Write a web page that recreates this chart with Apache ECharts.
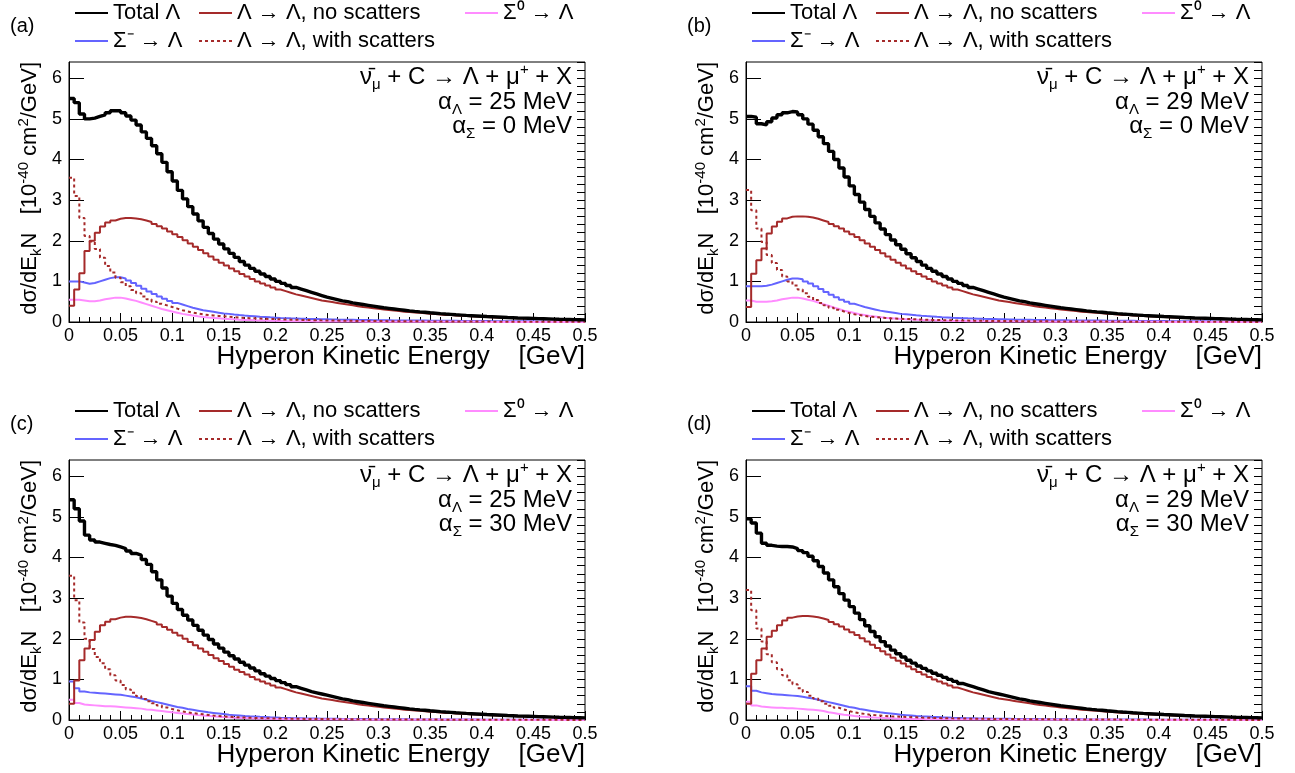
<!DOCTYPE html>
<html><head><meta charset="utf-8">
<script src="https://cdn.jsdelivr.net/npm/echarts@6/dist/echarts.min.js"></script>
<style>html,body{margin:0;padding:0;background:#fff}#c{width:1295px;height:773px}</style>
</head><body><div id="c"></div><script>
// ---------------- DATA (100 bins of 0.005 GeV, 0 - 0.5 GeV) ----------------
const binWidth = 0.005;
const xTickLabels = ['0','0.05','0.1','0.15','0.2','0.25','0.3','0.35','0.4','0.45','0.5'];
const yTickLabels = ['0','1','2','3','4','5','6'];
const seriesNames = ['Total Λ','Λ → Λ, no scatters','Σ⁰ → Λ','Σ⁻ → Λ','Λ → Λ, with scatters'];
const panelLabels = ['(a)','(b)','(c)','(d)'];
const alphaLambda = ['25','29','25','29'];
const alphaSigma = ['0','0','30','30'];

// Panel (a)
const totalA = [
5.5,5.4,5.12,5.0,5.02,5.06,5.1,5.15,5.2,5.2,
5.15,5.07,4.97,4.85,4.68,4.52,4.34,4.14,3.93,3.7,
3.47,3.24,3.03,2.84,2.66,2.49,2.33,2.18,2.04,1.92,
1.8,1.69,1.59,1.49,1.4,1.32,1.25,1.18,1.12,1.06,
1.0,0.95,0.9,0.85,0.81,0.77,0.73,0.69,0.65,0.61,
0.58,0.55,0.52,0.5,0.47,0.45,0.43,0.41,0.39,0.37,
0.35,0.335,0.32,0.305,0.29,0.275,0.262,0.25,0.24,0.228,
0.217,0.206,0.196,0.187,0.178,0.17,0.162,0.155,0.148,0.141,
0.134,0.128,0.122,0.116,0.11,0.105,0.1,0.096,0.092,0.088,
0.084,0.08,0.076,0.072,0.068,0.065,0.062,0.059,0.056,0.053];
const noScatA = [
0.4,0.8,1.2,1.75,2.0,2.2,2.35,2.45,2.5,2.54,
2.56,2.56,2.55,2.53,2.5,2.46,2.41,2.36,2.3,2.23,
2.16,2.09,2.01,1.93,1.85,1.77,1.69,1.61,1.53,1.46,
1.39,1.32,1.25,1.18,1.12,1.06,1.0,0.95,0.9,0.85,
0.8,0.76,0.72,0.68,0.65,0.62,0.59,0.56,0.53,0.51,
0.49,0.47,0.45,0.43,0.41,0.39,0.37,0.355,0.34,0.325,
0.31,0.295,0.28,0.27,0.255,0.245,0.235,0.225,0.215,0.205,
0.195,0.185,0.175,0.17,0.16,0.155,0.147,0.14,0.134,0.128,
0.122,0.116,0.11,0.105,0.1,0.096,0.092,0.088,0.084,0.08,
0.076,0.072,0.068,0.065,0.062,0.059,0.056,0.053,0.05,0.047];
const withScatA = [
3.55,3.1,2.56,2.12,1.98,1.8,1.58,1.38,1.22,1.09,
0.98,0.88,0.79,0.71,0.63,0.56,0.5,0.45,0.41,0.37,
0.33,0.29,0.26,0.23,0.21,0.19,0.17,0.16,0.15,0.14,
0.13,0.12,0.11,0.1,0.095,0.09,0.085,0.08,0.075,0.07,
0.066,0.062,0.058,0.055,0.052,0.049,0.046,0.043,0.04,0.038,
0.036,0.034,0.032,0.03,0.028,0.027,0.026,0.025,0.024,0.023,
0.022,0.021,0.02,0.019,0.018,0.017,0.016,0.016,0.015,0.015,
0.014,0.014,0.013,0.013,0.012,0.012,0.011,0.011,0.01,0.01,
0.01,0.009,0.009,0.009,0.008,0.008,0.008,0.007,0.007,0.007,
0.006,0.006,0.006,0.006,0.005,0.005,0.005,0.005,0.005,0.004];
const sigMinusA = [
1.0,1.0,0.97,0.94,0.96,1.0,1.04,1.08,1.1,1.1,
1.07,1.02,0.96,0.89,0.82,0.75,0.69,0.63,0.57,0.52,
0.47,0.43,0.39,0.35,0.32,0.29,0.27,0.25,0.23,0.21,
0.2,0.185,0.172,0.16,0.15,0.14,0.13,0.122,0.114,0.107,
0.1,0.095,0.09,0.086,0.082,0.078,0.075,0.072,0.069,0.066,
0.063,0.06,0.058,0.056,0.054,0.052,0.05,0.048,0.046,0.044,
0.042,0.041,0.04,0.039,0.038,0.037,0.036,0.035,0.034,0.033,
0.032,0.031,0.03,0.029,0.028,0.027,0.026,0.025,0.024,0.023,
0.022,0.021,0.02,0.02,0.019,0.018,0.018,0.017,0.016,0.016,
0.015,0.015,0.014,0.014,0.013,0.013,0.012,0.012,0.011,0.011];
const sigZeroA = [
0.55,0.55,0.53,0.51,0.51,0.53,0.56,0.58,0.6,0.6,
0.58,0.55,0.52,0.48,0.44,0.4,0.36,0.32,0.29,0.26,
0.23,0.2,0.18,0.16,0.14,0.125,0.11,0.1,0.09,0.08,
0.072,0.065,0.058,0.052,0.047,0.042,0.038,0.034,0.031,0.028,
0.025,0.023,0.021,0.019,0.018,0.017,0.016,0.015,0.014,0.013,
0.012,0.012,0.011,0.011,0.01,0.01,0.009,0.009,0.009,0.008,
0.008,0.008,0.007,0.007,0.007,0.006,0.006,0.006,0.006,0.005,
0.005,0.005,0.005,0.005,0.004,0.004,0.004,0.004,0.004,0.004,
0.003,0.003,0.003,0.003,0.003,0.003,0.003,0.003,0.002,0.002,
0.002,0.002,0.002,0.002,0.002,0.002,0.002,0.002,0.002,0.002];

// Panel (b)
const totalB = [
5.06,5.04,4.88,4.85,4.93,5.02,5.1,5.15,5.18,5.17,
5.1,5.0,4.87,4.72,4.56,4.39,4.2,4.0,3.79,3.57,
3.35,3.14,2.95,2.77,2.6,2.44,2.29,2.15,2.02,1.9,
1.79,1.68,1.58,1.49,1.4,1.32,1.25,1.18,1.12,1.06,
1.0,0.95,0.9,0.85,0.81,0.77,0.73,0.69,0.65,0.61,
0.58,0.55,0.52,0.5,0.47,0.45,0.43,0.41,0.39,0.37,
0.35,0.335,0.32,0.305,0.29,0.275,0.262,0.25,0.24,0.228,
0.217,0.206,0.196,0.187,0.178,0.17,0.162,0.155,0.148,0.141,
0.134,0.128,0.122,0.116,0.11,0.105,0.1,0.096,0.092,0.088,
0.084,0.08,0.076,0.072,0.068,0.065,0.062,0.059,0.056,0.053];
const noScatB = [
0.37,1.19,1.52,1.81,2.18,2.35,2.47,2.55,2.59,2.6,
2.6,2.59,2.57,2.54,2.5,2.46,2.41,2.36,2.3,2.23,
2.16,2.09,2.01,1.93,1.85,1.77,1.69,1.61,1.53,1.46,
1.39,1.32,1.25,1.18,1.12,1.06,1.0,0.95,0.9,0.85,
0.8,0.76,0.72,0.68,0.65,0.62,0.59,0.56,0.53,0.51,
0.49,0.47,0.45,0.43,0.41,0.39,0.37,0.355,0.34,0.325,
0.31,0.295,0.28,0.27,0.255,0.245,0.235,0.225,0.215,0.205,
0.195,0.185,0.175,0.17,0.16,0.155,0.147,0.14,0.134,0.128,
0.122,0.116,0.11,0.105,0.1,0.096,0.092,0.088,0.084,0.08,
0.076,0.072,0.068,0.065,0.062,0.059,0.056,0.053,0.05,0.047];
const withScatB = [
3.25,2.75,2.3,1.97,1.65,1.45,1.28,1.12,1.0,0.9,
0.8,0.71,0.62,0.54,0.47,0.41,0.35,0.3,0.26,0.22,
0.19,0.17,0.15,0.13,0.12,0.11,0.1,0.09,0.085,0.08,
0.075,0.07,0.065,0.06,0.056,0.052,0.049,0.046,0.043,0.04,
0.038,0.036,0.034,0.032,0.03,0.028,0.027,0.026,0.025,0.024,
0.023,0.022,0.021,0.02,0.019,0.018,0.017,0.016,0.016,0.015,
0.015,0.014,0.014,0.013,0.013,0.012,0.012,0.011,0.011,0.01,
0.01,0.01,0.009,0.009,0.009,0.008,0.008,0.008,0.007,0.007,
0.007,0.006,0.006,0.006,0.006,0.005,0.005,0.005,0.005,0.005,
0.004,0.004,0.004,0.004,0.004,0.004,0.003,0.003,0.003,0.003];
const sigMinusB = [
0.88,0.88,0.88,0.89,0.92,0.96,1.0,1.04,1.07,1.07,
1.05,1.0,0.95,0.88,0.81,0.74,0.67,0.61,0.55,0.5,
0.45,0.41,0.37,0.34,0.31,0.28,0.26,0.24,0.22,0.2,
0.19,0.178,0.166,0.155,0.145,0.136,0.127,0.119,0.112,0.105,
0.1,0.095,0.09,0.086,0.082,0.078,0.075,0.072,0.069,0.066,
0.063,0.06,0.058,0.056,0.054,0.052,0.05,0.048,0.046,0.044,
0.042,0.041,0.04,0.039,0.038,0.037,0.036,0.035,0.034,0.033,
0.032,0.031,0.03,0.029,0.028,0.027,0.026,0.025,0.024,0.023,
0.022,0.021,0.02,0.02,0.019,0.018,0.018,0.017,0.016,0.016,
0.015,0.015,0.014,0.014,0.013,0.013,0.012,0.012,0.011,0.011];
const sigZeroB = [
0.53,0.5,0.5,0.5,0.51,0.53,0.56,0.58,0.6,0.6,
0.58,0.55,0.52,0.48,0.44,0.4,0.36,0.32,0.28,0.25,
0.22,0.19,0.17,0.15,0.135,0.12,0.105,0.095,0.085,0.076,
0.069,0.062,0.056,0.05,0.045,0.041,0.037,0.033,0.03,0.027,
0.025,0.023,0.021,0.019,0.018,0.017,0.016,0.015,0.014,0.013,
0.012,0.012,0.011,0.011,0.01,0.01,0.009,0.009,0.009,0.008,
0.008,0.008,0.007,0.007,0.007,0.006,0.006,0.006,0.006,0.005,
0.005,0.005,0.005,0.005,0.004,0.004,0.004,0.004,0.004,0.004,
0.003,0.003,0.003,0.003,0.003,0.003,0.003,0.003,0.002,0.002,
0.002,0.002,0.002,0.002,0.002,0.002,0.002,0.002,0.002,0.002];

// Panel (c)
const totalC = [
5.42,5.2,4.9,4.55,4.43,4.38,4.35,4.32,4.3,4.26,
4.22,4.16,4.1,4.06,3.95,3.83,3.65,3.45,3.25,3.05,
2.87,2.72,2.58,2.46,2.33,2.21,2.09,1.98,1.87,1.77,
1.67,1.58,1.5,1.42,1.35,1.28,1.21,1.14,1.08,1.02,
0.97,0.92,0.87,0.82,0.78,0.74,0.7,0.67,0.64,0.61,
0.58,0.55,0.52,0.5,0.47,0.45,0.43,0.41,0.39,0.37,
0.35,0.335,0.32,0.305,0.29,0.275,0.262,0.25,0.24,0.228,
0.217,0.206,0.196,0.187,0.178,0.17,0.162,0.155,0.148,0.141,
0.134,0.128,0.122,0.116,0.11,0.105,0.1,0.096,0.092,0.088,
0.084,0.08,0.076,0.072,0.068,0.065,0.062,0.059,0.056,0.053];
const noScatC = [
0.4,0.97,1.47,1.76,1.97,2.17,2.33,2.42,2.48,2.52,
2.54,2.54,2.53,2.51,2.48,2.44,2.4,2.35,2.29,2.22,
2.15,2.08,2.0,1.92,1.84,1.76,1.68,1.6,1.52,1.45,
1.38,1.31,1.24,1.18,1.12,1.06,1.0,0.95,0.9,0.85,
0.8,0.76,0.72,0.68,0.65,0.62,0.59,0.56,0.53,0.51,
0.49,0.47,0.45,0.43,0.41,0.39,0.37,0.355,0.34,0.325,
0.31,0.295,0.28,0.27,0.255,0.245,0.235,0.225,0.215,0.205,
0.195,0.185,0.175,0.17,0.16,0.155,0.147,0.14,0.134,0.128,
0.122,0.116,0.11,0.105,0.1,0.096,0.092,0.088,0.084,0.08,
0.076,0.072,0.068,0.065,0.062,0.059,0.056,0.053,0.05,0.047];
const withScatC = [
3.55,2.95,2.4,2.0,1.75,1.55,1.4,1.25,1.1,0.97,
0.86,0.75,0.67,0.59,0.52,0.46,0.41,0.36,0.31,0.27,
0.24,0.21,0.19,0.17,0.155,0.14,0.125,0.11,0.1,0.09,
0.08,0.073,0.067,0.061,0.056,0.052,0.048,0.044,0.041,0.038,
0.036,0.034,0.032,0.03,0.028,0.027,0.026,0.025,0.024,0.023,
0.022,0.021,0.02,0.019,0.018,0.017,0.016,0.016,0.015,0.015,
0.014,0.014,0.013,0.013,0.012,0.012,0.011,0.011,0.01,0.01,
0.01,0.009,0.009,0.009,0.008,0.008,0.008,0.007,0.007,0.007,
0.006,0.006,0.006,0.006,0.005,0.005,0.005,0.005,0.005,0.004,
0.004,0.004,0.004,0.004,0.004,0.003,0.003,0.003,0.003,0.003];
const sigMinusC = [
0.95,0.78,0.7,0.68,0.67,0.66,0.65,0.64,0.63,0.62,
0.6,0.58,0.56,0.53,0.5,0.47,0.44,0.41,0.38,0.35,
0.32,0.3,0.27,0.25,0.23,0.21,0.19,0.175,0.16,0.145,
0.13,0.12,0.11,0.1,0.092,0.085,0.078,0.072,0.066,0.061,
0.056,0.052,0.048,0.045,0.042,0.039,0.037,0.035,0.033,0.031,
0.029,0.028,0.027,0.026,0.025,0.024,0.023,0.022,0.021,0.02,
0.019,0.018,0.018,0.017,0.016,0.016,0.015,0.015,0.014,0.014,
0.013,0.013,0.012,0.012,0.011,0.011,0.01,0.01,0.01,0.009,
0.009,0.009,0.008,0.008,0.008,0.007,0.007,0.007,0.007,0.006,
0.006,0.006,0.006,0.005,0.005,0.005,0.005,0.005,0.004,0.004];
const sigZeroC = [
0.5,0.42,0.38,0.37,0.36,0.35,0.34,0.34,0.33,0.32,
0.31,0.3,0.29,0.28,0.26,0.25,0.235,0.22,0.205,0.19,
0.175,0.16,0.148,0.135,0.12,0.11,0.1,0.09,0.08,0.072,
0.065,0.058,0.052,0.047,0.042,0.038,0.034,0.031,0.028,0.025,
0.023,0.021,0.019,0.018,0.017,0.016,0.015,0.014,0.013,0.012,
0.012,0.011,0.011,0.01,0.01,0.009,0.009,0.009,0.008,0.008,
0.008,0.007,0.007,0.007,0.006,0.006,0.006,0.006,0.005,0.005,
0.005,0.005,0.005,0.004,0.004,0.004,0.004,0.004,0.004,0.003,
0.003,0.003,0.003,0.003,0.003,0.003,0.003,0.002,0.002,0.002,
0.002,0.002,0.002,0.002,0.002,0.002,0.002,0.002,0.002,0.002];

// Panel (d)
const totalD = [
4.95,4.85,4.6,4.35,4.3,4.28,4.27,4.27,4.26,4.22,
4.17,4.12,4.03,3.92,3.78,3.62,3.45,3.28,3.11,2.95,
2.79,2.63,2.47,2.32,2.18,2.05,1.93,1.82,1.72,1.63,
1.55,1.47,1.4,1.33,1.27,1.21,1.15,1.1,1.05,1.0,
0.95,0.9,0.86,0.82,0.78,0.74,0.7,0.67,0.64,0.61,
0.58,0.55,0.52,0.5,0.47,0.45,0.43,0.41,0.39,0.37,
0.35,0.335,0.32,0.305,0.29,0.275,0.262,0.25,0.24,0.228,
0.217,0.206,0.196,0.187,0.178,0.17,0.162,0.155,0.148,0.141,
0.134,0.128,0.122,0.116,0.11,0.105,0.1,0.096,0.092,0.088,
0.084,0.08,0.076,0.072,0.068,0.065,0.062,0.059,0.056,0.053];
const noScatD = [
0.4,1.14,1.47,1.76,2.05,2.2,2.33,2.45,2.52,2.55,
2.56,2.56,2.55,2.53,2.5,2.46,2.41,2.36,2.3,2.23,
2.16,2.09,2.01,1.93,1.85,1.77,1.69,1.61,1.53,1.46,
1.39,1.32,1.25,1.18,1.12,1.06,1.0,0.95,0.9,0.85,
0.8,0.76,0.72,0.68,0.65,0.62,0.59,0.56,0.53,0.51,
0.49,0.47,0.45,0.43,0.41,0.39,0.37,0.355,0.34,0.325,
0.31,0.295,0.28,0.27,0.255,0.245,0.235,0.225,0.215,0.205,
0.195,0.185,0.175,0.17,0.16,0.155,0.147,0.14,0.134,0.128,
0.122,0.116,0.11,0.105,0.1,0.096,0.092,0.088,0.084,0.08,
0.076,0.072,0.068,0.065,0.062,0.059,0.056,0.053,0.05,0.047];
const withScatD = [
3.2,2.7,2.25,1.93,1.62,1.42,1.25,1.1,0.98,0.88,
0.78,0.69,0.6,0.53,0.46,0.4,0.35,0.3,0.26,0.22,
0.19,0.17,0.15,0.13,0.12,0.11,0.1,0.09,0.085,0.08,
0.075,0.07,0.065,0.06,0.056,0.052,0.049,0.046,0.043,0.04,
0.038,0.036,0.034,0.032,0.03,0.028,0.027,0.026,0.025,0.024,
0.023,0.022,0.021,0.02,0.019,0.018,0.017,0.016,0.016,0.015,
0.015,0.014,0.014,0.013,0.013,0.012,0.012,0.011,0.011,0.01,
0.01,0.01,0.009,0.009,0.009,0.008,0.008,0.008,0.007,0.007,
0.007,0.006,0.006,0.006,0.006,0.005,0.005,0.005,0.005,0.005,
0.004,0.004,0.004,0.004,0.004,0.004,0.003,0.003,0.003,0.003];
const sigMinusD = [
0.83,0.72,0.68,0.66,0.64,0.63,0.62,0.61,0.6,0.59,
0.57,0.55,0.53,0.5,0.47,0.44,0.41,0.38,0.35,0.32,
0.3,0.27,0.25,0.23,0.21,0.19,0.175,0.16,0.145,0.13,
0.12,0.11,0.1,0.092,0.085,0.078,0.072,0.066,0.061,0.056,
0.052,0.048,0.045,0.042,0.039,0.037,0.035,0.033,0.031,0.029,
0.028,0.027,0.026,0.025,0.024,0.023,0.022,0.021,0.02,0.019,
0.018,0.018,0.017,0.016,0.016,0.015,0.015,0.014,0.014,0.013,
0.013,0.012,0.012,0.011,0.011,0.01,0.01,0.01,0.009,0.009,
0.009,0.008,0.008,0.008,0.007,0.007,0.007,0.007,0.006,0.006,
0.006,0.006,0.005,0.005,0.005,0.005,0.005,0.004,0.004,0.004];
const sigZeroD = [
0.45,0.36,0.33,0.32,0.31,0.3,0.3,0.29,0.29,0.28,
0.27,0.26,0.25,0.24,0.22,0.19,0.17,0.15,0.13,0.115,
0.1,0.088,0.077,0.068,0.06,0.053,0.047,0.042,0.037,0.033,
0.03,0.027,0.025,0.023,0.021,0.019,0.018,0.017,0.016,0.015,
0.014,0.013,0.012,0.012,0.011,0.011,0.01,0.01,0.009,0.009,
0.009,0.008,0.008,0.008,0.007,0.007,0.007,0.006,0.006,0.006,
0.006,0.005,0.005,0.005,0.005,0.005,0.004,0.004,0.004,0.004,
0.004,0.004,0.003,0.003,0.003,0.003,0.003,0.003,0.003,0.003,
0.002,0.002,0.002,0.002,0.002,0.002,0.002,0.002,0.002,0.002,
0.002,0.002,0.002,0.002,0.002,0.002,0.002,0.002,0.002,0.002];

// ---------------- BUILD ----------------
const panelData = [
  [totalA, noScatA, sigZeroA, sigMinusA, withScatA],
  [totalB, noScatB, sigZeroB, sigMinusB, withScatB],
  [totalC, noScatC, sigZeroC, sigMinusC, withScatC],
  [totalD, noScatD, sigZeroD, sigMinusD, withScatD]
];
const FONT = "'Liberation Sans', Arial, Helvetica, sans-serif";
const colors = ['#000000', '#a52a2a', '#ff8cff', '#6464ff', '#a52a2a'];
const widths = [3.4, 2, 2, 2, 2];
const zs = [6, 4, 3, 3, 5];
const lineTypes = ['solid', 'solid', 'solid', 'solid', [3, 3]];

const layout = [
  {left: 69, top: 62}, {left: 746, top: 62},
  {left: 69, top: 460}, {left: 746, top: 460}
];
const PW = 516, PH = 260;

function hist(vals) {
  const d = [];
  for (let i = 0; i < vals.length; i++) d.push([i * binWidth, vals[i]]);
  d.push([vals.length * binWidth, vals[vals.length - 1]]);
  return d;
}

const grid = [], xAxis = [], yAxis = [], series = [], legend = [], graphic = [];

layout.forEach((L, p) => {
  grid.push({left: L.left, top: L.top, width: PW, height: PH, show: true,
    borderColor: '#000', borderWidth: 1, backgroundColor: 'transparent'});
  xAxis.push({
    gridIndex: p, type: 'value', min: 0, max: 0.5, interval: 0.05,
    axisLine: {show: true, onZero: false, lineStyle: {color: '#000', width: 1}},
    axisTick: {show: true, inside: true, length: 9, lineStyle: {color: '#000'}},
    minorTick: {show: true, splitNumber: 5, length: 5, lineStyle: {color: '#000'}},
    splitLine: {show: false}, minorSplitLine: {show: false},
    axisLabel: {color: '#000', fontSize: 18, fontFamily: FONT, margin: 5,
      formatter: v => xTickLabels[Math.round(v / 0.05)]}
  });
  yAxis.push({
    gridIndex: p, type: 'value', min: 0, max: 6.4, interval: 1,
    axisLine: {show: true, lineStyle: {color: '#000', width: 1}},
    axisTick: {show: true, inside: true, length: 15, lineStyle: {color: '#000'}},
    splitLine: {show: false},
    axisLabel: {color: '#000', fontSize: 18, fontFamily: FONT, margin: 7, showMaxLabel: false,
      formatter: v => (Math.abs(v - Math.round(v)) < 1e-6 && v <= 6) ? yTickLabels[Math.round(v)] : ''}
  });
  yAxis.push({
    gridIndex: p, type: 'value', min: 0, max: 6.4, interval: 0.2,
    axisLine: {show: false}, axisLabel: {show: false}, splitLine: {show: false},
    axisTick: {show: true, inside: true, length: 8, lineStyle: {color: '#000'}}
  });

  const data = panelData[p];
  [3, 2, 4, 1, 0].forEach(k => {
    series.push({
      name: seriesNames[k], type: 'line', xAxisIndex: p, yAxisIndex: 2 * p,
      step: 'end', symbol: 'none', showSymbol: false, animation: false, silent: true,
      z: zs[k],
      lineStyle: {color: colors[k], width: widths[k], type: lineTypes[k]},
      itemStyle: {color: colors[k]},
      data: hist(data[k])
    });
  });

  const dx = L.left - 69, dy = L.top - 62;
  const legCommon = {orient: 'vertical', itemWidth: 33, itemHeight: 14, itemGap: 6,
    selectedMode: false, padding: 0, itemStyle: {opacity: 0},
    textStyle: {fontSize: 22, fontFamily: FONT, color: '#000', lineHeight: 22}};
  legend.push(Object.assign({left: 74 + dx, top: 2 + dy, data: [seriesNames[0], seriesNames[3]]}, legCommon));
  legend.push(Object.assign({left: 198 + dx, top: 2 + dy, data: [seriesNames[1], seriesNames[4]]}, legCommon));
  legend.push(Object.assign({left: 464 + dx, top: 2 + dy, data: [seriesNames[2]]}, legCommon));

  graphic.push({type: 'text', x: 10 + dx, y: 26 + dy,
    style: {text: panelLabels[p], fontSize: 20, fontFamily: FONT, fill: '#000', align: 'left', verticalAlign: 'middle'}});

  const rich = {
    m: {fontSize: 24, fontFamily: FONT, lineHeight: 30, fill: '#000'},
    sb: {fontSize: 15, fontFamily: FONT, lineHeight: 18, verticalAlign: 'bottom', fill: '#000'},
    sp: {fontSize: 15, fontFamily: FONT, lineHeight: 16, verticalAlign: 'top', fill: '#000'}
  };
  const ax = L.left + 503;
  graphic.push({type: 'text', x: ax, y: 77 + dy,
    style: {text: '{m|ν̄}{sb|μ}{m| + C → Λ + μ}{sp|+}{m| + X}', rich: rich, align: 'right', verticalAlign: 'middle'}});
  graphic.push({type: 'text', x: ax, y: 102 + dy,
    style: {text: '{m|α}{sb|Λ}{m| = ' + alphaLambda[p] + ' MeV}', rich: rich, align: 'right', verticalAlign: 'middle'}});
  graphic.push({type: 'text', x: ax, y: 126 + dy,
    style: {text: '{m|α}{sb|Σ}{m| = ' + alphaSigma[p] + ' MeV}', rich: rich, align: 'right', verticalAlign: 'middle'}});

  graphic.push({type: 'text', x: L.left + PW, y: 357 + dy,
    style: {text: 'Hyperon Kinetic Energy    [GeV]', fontSize: 26, fontFamily: FONT, fill: '#000', align: 'right', verticalAlign: 'middle'}});

  const richY = {
    m: {fontSize: 22, fontFamily: FONT, lineHeight: 28, fill: '#000'},
    sb: {fontSize: 15, fontFamily: FONT, lineHeight: 17, verticalAlign: 'bottom', fill: '#000'},
    sp: {fontSize: 15, fontFamily: FONT, lineHeight: 16, verticalAlign: 'top', fill: '#000'}
  };
  graphic.push({type: 'text', x: L.left - 39, y: L.top, rotation: Math.PI / 2,
    style: {text: '{m|dσ/dE}{sb|k}{m|N   [10}{sp|-40}{m| cm}{sp|2}{m|/GeV]}', rich: richY, align: 'right', verticalAlign: 'middle'}});
});

const chart = echarts.init(document.getElementById('c'), null, {renderer: 'canvas'});
chart.setOption({
  animation: false, backgroundColor: '#fff',
  grid, xAxis, yAxis, series, legend, graphic
});
</script></body></html>
